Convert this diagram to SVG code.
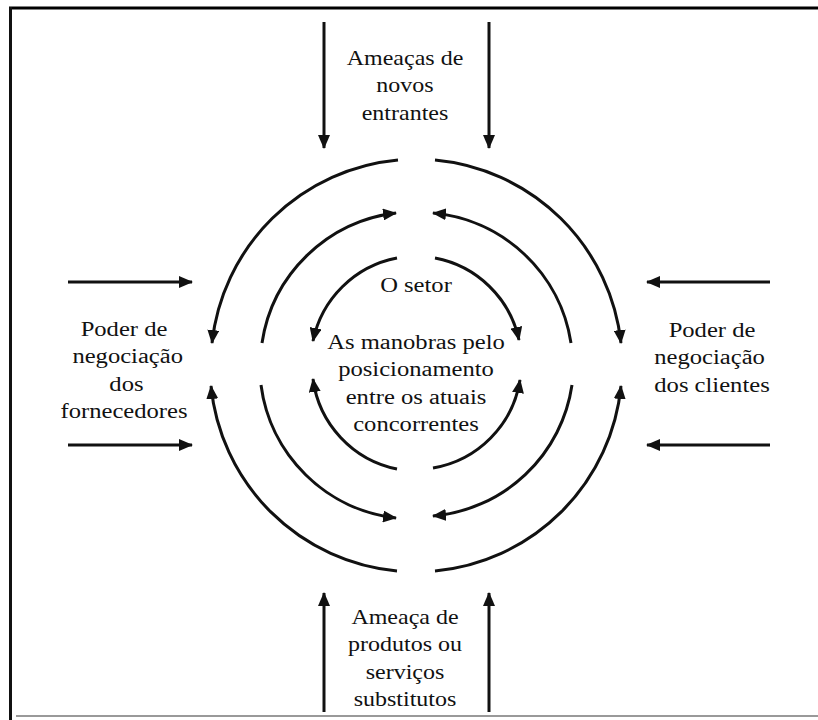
<svg xmlns="http://www.w3.org/2000/svg" width="818" height="720" viewBox="0 0 818 720">
<style>
.t{font-family:"Liberation Serif","Times New Roman",serif;font-size:20px;fill:#111;text-anchor:middle}
.c{fill:none;stroke:#111;stroke-width:3}
</style>
<defs>
<marker id="ah" markerUnits="userSpaceOnUse" viewBox="0 0 14 12" markerWidth="14" markerHeight="12" refX="13" refY="6" orient="auto">
<path d="M0,0 L14,6 L0,12 z" fill="#111"/>
</marker>
</defs>
<rect width="818" height="720" fill="#fff"/>
<g id="frame">
<line x1="9" y1="8" x2="818" y2="8" stroke="#000" stroke-width="3"/>
<line x1="10.5" y1="7" x2="10.5" y2="720" stroke="#111" stroke-width="3"/>
<line x1="16" y1="716" x2="818" y2="716" stroke="#999" stroke-width="2"/>
</g>
<g id="connectors" class="c" marker-end="url(#ah)">
<path d="M324,22 L324,148"/>
<path d="M489,22 L489,148"/>
<path d="M324,712 L324,593"/>
<path d="M489,712 L489,593"/>
<path d="M68,282 L192,282"/>
<path d="M68,445 L192,445"/>
<path d="M770,282 L647,282"/>
<path d="M770,445 L647,445"/>
<path d="M398,160 A206,206 0 0 0 212,343"/>
<path d="M435,160 A206,206 0 0 1 621,343"/>
<path d="M397,571 A206,206 0 0 1 211,386"/>
<path d="M435,571 A206,206 0 0 0 621,386"/>
<path d="M262,343 A154,154 0 0 1 396,213"/>
<path d="M571,343 A154,154 0 0 0 433,213"/>
<path d="M261,385 A154,154 0 0 0 396,518"/>
<path d="M572,385 A154,154 0 0 1 433,516"/>
<path d="M397,258 A106,106 0 0 0 313,341"/>
<path d="M435,258 A106,106 0 0 1 519,340"/>
<path d="M397,469 A106,106 0 0 1 313,379"/>
<path d="M433,468 A106,106 0 0 0 520,380"/>
</g>
<g id="novos-entrantes">
<text class="t" transform="matrix(1.2 0 0 1 405 65)"><tspan x="0">Ameaças de</tspan><tspan x="0" dy="27.5">novos</tspan><tspan x="0" dy="27.5">entrantes</tspan></text>
</g>
<g id="fornecedores">
<text class="t" transform="matrix(1.23 0 0 1 124 336)"><tspan x="0">Poder de</tspan><tspan x="3" dy="27.5">negociação</tspan><tspan x="2" dy="27.5">dos</tspan><tspan x="0" dy="27.5">fornecedores</tspan></text>
</g>
<g id="clientes">
<text class="t" transform="matrix(1.23 0 0 1 712 337)"><tspan x="0">Poder de</tspan><tspan x="-2" dy="27.5">negociação</tspan><tspan x="0" dy="27.5">dos clientes</tspan></text>
</g>
<g id="substitutos">
<text class="t" transform="matrix(1.2 0 0 1 405 624)"><tspan x="0">Ameaça de</tspan><tspan x="0" dy="27.5">produtos ou</tspan><tspan x="0" dy="27.5">serviços</tspan><tspan x="0" dy="27.5">substitutos</tspan></text>
</g>
<g id="setor">
<text class="t" transform="matrix(1.23 0 0 1 416 292)">O setor</text>
<text class="t" transform="matrix(1.23 0 0 1 416 349)"><tspan x="0">As manobras pelo</tspan><tspan x="0" dy="27.5">posicionamento</tspan><tspan x="0" dy="27.5">entre os atuais</tspan><tspan x="0" dy="27.5">concorrentes</tspan></text>
</g>
</svg>
